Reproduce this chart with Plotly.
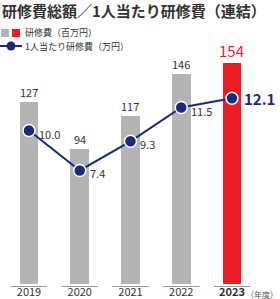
import plotly.graph_objects as go

years = ["2019", "2020", "2021", "2022", "2023"]
cost_total = [127, 94, 117, 146, 154]        # 研修費（百万円）
cost_per_person = [10.0, 7.4, 9.3, 11.5, 12.1]  # 1人当たり研修費（万円）

GRAY = "#b3b4b6"
RED = "#ec1c24"
NAVY = "#1c2b78"
TXT = "#333333"
FONT = "Noto Sans CJK JP"

W, H = 280, 299
T, B = 40, 15
PH = H - T - B


def py(ypix):
    return (H - B - ypix) / PH


def px(xpix):
    return xpix / W


xs = list(range(len(years)))
bar_colors = [GRAY] * (len(years) - 1) + [RED]

fig = go.Figure()
fig.add_trace(go.Bar(x=xs, y=cost_total, marker=dict(color=bar_colors, line=dict(width=0)),
                     width=0.37, yaxis="y", hoverinfo="skip"))
fig.add_trace(go.Scatter(x=xs, y=cost_per_person, yaxis="y2", mode="lines+markers",
                         line=dict(color=NAVY, width=2),
                         marker=dict(size=12, color=NAVY, line=dict(color="white", width=1.5)),
                         hoverinfo="skip"))

annots = []
# bar labels
for i, v in enumerate(cost_total):
    last = i == len(years) - 1
    annots.append(dict(x=i, y=v, xref="x", yref="y", text=str(v), showarrow=False,
                       yanchor="bottom", xanchor="center", yshift=0,
                       font=dict(family=FONT, size=15 if last else 11, color=RED if last else TXT)))
# line labels
for i, v in enumerate(cost_per_person):
    last = i == len(years) - 1
    annots.append(dict(x=i, y=v, xref="x", yref="y2", text=(f"<b>{v:.1f}</b>" if last else f"{v:.1f}"),
                       showarrow=False, xanchor="left", yanchor="middle",
                       xshift=(10 if last else 8), yshift=(0 if last else -3),
                       font=dict(family=FONT, size=15 if last else 11, color=NAVY if last else TXT)))
# title
annots.append(dict(x=px(0), y=py(11), xref="paper", yref="paper", yanchor="middle", xanchor="left",
                   text="<b>研修費総額／1人当たり研修費（連結）</b>", showarrow=False,
                   font=dict(family=FONT, size=15, color=TXT)))
# legend text
annots.append(dict(x=px(23), y=py(33), xref="paper", yref="paper", xanchor="left", yanchor="middle",
                   text="研修費（百万円）", showarrow=False,
                   font=dict(family=FONT, size=9, color=TXT)))
annots.append(dict(x=px(23), y=py(46), xref="paper", yref="paper", xanchor="left", yanchor="middle",
                   text="1人当たり研修費（万円）", showarrow=False,
                   font=dict(family=FONT, size=9, color=TXT)))
# unit label
annots.append(dict(x=1, y=py(294), xref="paper", yref="paper", xanchor="right", yanchor="middle",
                   text="（年度）", showarrow=False,
                   font=dict(family=FONT, size=8, color="#555555")))

shapes = []
# legend symbols
shapes.append(dict(type="rect", xref="paper", yref="paper", x0=px(1), x1=px(9), y0=py(37), y1=py(29),
                   fillcolor=GRAY, line=dict(width=0)))
shapes.append(dict(type="rect", xref="paper", yref="paper", x0=px(12), x1=px(20), y0=py(37), y1=py(29),
                   fillcolor=RED, line=dict(width=0)))
shapes.append(dict(type="line", xref="paper", yref="paper", x0=px(0), x1=px(22), y0=py(46), y1=py(46),
                   line=dict(color=NAVY, width=2)))
shapes.append(dict(type="circle", xref="paper", yref="paper", x0=px(6.5), x1=px(15.5), y0=py(50.5), y1=py(41.5),
                   fillcolor=NAVY, line=dict(width=0)))
# baseline segments
for i in xs:
    shapes.append(dict(type="line", xref="x", yref="paper", x0=i - 0.36, x1=i + 0.36,
                       y0=-2.5 / PH, y1=-2.5 / PH, line=dict(color="#9a9a9a", width=1)))

ticktext = [f"<b>{y}</b>" if k == len(years) - 1 else y for k, y in enumerate(years)]

fig.update_layout(
    width=W, height=H, margin=dict(l=0, r=0, t=T, b=B),
    paper_bgcolor="white", plot_bgcolor="white", showlegend=False,
    bargap=0,
    xaxis=dict(range=[-0.571, 4.946], tickvals=xs, ticktext=ticktext, showgrid=False,
               zeroline=False, showline=False, ticks="", fixedrange=True,
               tickfont=dict(family=FONT, size=11, color=TXT)),
    yaxis=dict(range=[0, 170], visible=False, showgrid=False, zeroline=False),
    yaxis2=dict(range=[0, 15.9], overlaying="y", visible=False, showgrid=False, zeroline=False),
    annotations=annots, shapes=shapes,
)

fig.write_html("out.html")
